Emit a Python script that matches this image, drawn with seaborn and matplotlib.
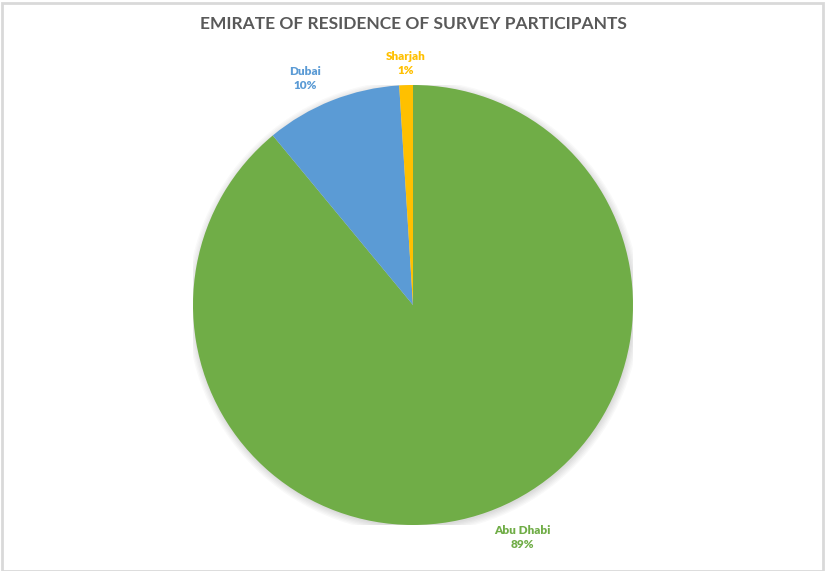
import matplotlib
matplotlib.use("Agg")
import matplotlib.pyplot as plt
import seaborn as sns
import numpy as np
from matplotlib.patches import Rectangle, Circle

sns.set_theme(style="white")
plt.rcParams['font.family'] = ['Lato', 'DejaVu Sans']

# Emirate of residence shares (%)
emirates = ["Abu Dhabi", "Dubai", "Sharjah"]
shares = [89, 10, 1]
colors = ["#70AD47", "#5B9BD5", "#FFC000"]
label_dist = [1.17, 1.14, 1.10]
label_turn = [5.4, 3.8, 0.0]   # degrees, nudges labels off the wedge bisector

fig = plt.figure(figsize=(8.26, 5.71), dpi=100)
fig.patch.set_facecolor("white")

R = 220
cx, cy = 413, 305
W, H = 826, 571
ax = fig.add_axes([(cx - R) / W, (H - cy - R) / H, 2 * R / W, 2 * R / H])

# soft drop shadow under the pie
for k in range(6):
    ax.add_patch(Circle((0.004, -0.008), 1.0 + 0.006 * k, color="black",
                        alpha=0.025, linewidth=0, zorder=0))

wedges, _ = ax.pie(shares, colors=colors, startangle=90, counterclock=False,
                   radius=1.0, wedgeprops=dict(linewidth=0, edgecolor="white", zorder=2))
ax.set_xlim(-1, 1)
ax.set_ylim(-1, 1)
ax.set_aspect("equal")
ax.axis("off")

for w, name, val, col, d, t in zip(wedges, emirates, shares, colors, label_dist, label_turn):
    mid = np.deg2rad((w.theta1 + w.theta2) / 2 + t)
    x, y = d * np.cos(mid), d * np.sin(mid)
    ax.text(x, y, f"{name}\n{val}%", ha="center", va="center", color=col,
            fontsize=8.5, fontweight="heavy", linespacing=1.35, clip_on=False)

fig.text(0.5, 1 - 24 / H, "EMIRATE OF RESIDENCE OF SURVEY PARTICIPANTS",
         ha="center", va="center", fontsize=12.5, fontweight="bold", color="#595959")

fig.add_artist(Rectangle((0.002, 0.0), 0.994, 0.995, transform=fig.transFigure,
                         fill=False, edgecolor="#D9D9D9", linewidth=2))

fig.savefig("out.png", dpi=100)
